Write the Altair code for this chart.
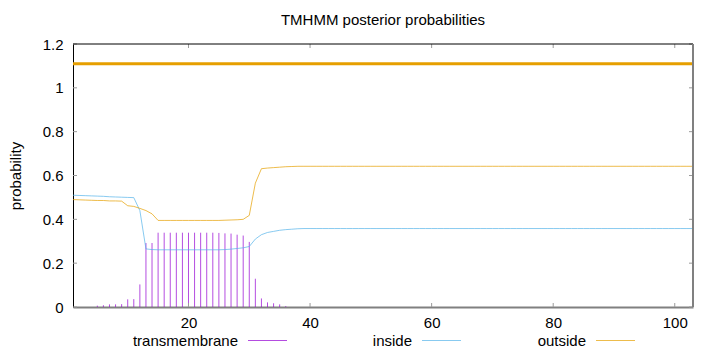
import altair as alt
import pandas as pd

# ---------------- data ----------------
positions = list(range(1, 104))

transmembrane = [
    0.000, 0.000, 0.000, 0.000, 0.006, 0.008, 0.012, 0.012, 0.013, 0.035,
    0.036, 0.103, 0.292, 0.292, 0.339, 0.339, 0.339, 0.339, 0.339, 0.339,
    0.339, 0.339, 0.339, 0.339, 0.338, 0.336, 0.335, 0.330, 0.326, 0.297,
    0.129, 0.039, 0.021, 0.017, 0.012, 0.004, 0.000, 0.000, 0.000, 0.000,
    0.000, 0.000, 0.000, 0.000, 0.000, 0.000, 0.000, 0.000, 0.000, 0.000,
    0.000, 0.000, 0.000, 0.000, 0.000, 0.000, 0.000, 0.000, 0.000, 0.000,
    0.000, 0.000, 0.000, 0.000, 0.000, 0.000, 0.000, 0.000, 0.000, 0.000,
    0.000, 0.000, 0.000, 0.000, 0.000, 0.000, 0.000, 0.000, 0.000, 0.000,
    0.000, 0.000, 0.000, 0.000, 0.000, 0.000, 0.000, 0.000, 0.000, 0.000,
    0.000, 0.000, 0.000, 0.000, 0.000, 0.000, 0.000, 0.000, 0.000, 0.000,
    0.000, 0.000, 0.000,
]

inside = [
    0.510, 0.509, 0.508, 0.507, 0.506, 0.505, 0.503, 0.502, 0.501, 0.500,
    0.499, 0.440, 0.265, 0.262, 0.261, 0.261, 0.261, 0.261, 0.261, 0.261,
    0.261, 0.261, 0.261, 0.261, 0.261, 0.262, 0.264, 0.267, 0.270, 0.276,
    0.310, 0.330, 0.340, 0.345, 0.350, 0.353, 0.355, 0.357, 0.358, 0.358,
    0.358, 0.358, 0.358, 0.358, 0.358, 0.358, 0.358, 0.358, 0.358, 0.358,
    0.358, 0.358, 0.358, 0.358, 0.358, 0.358, 0.358, 0.358, 0.358, 0.358,
    0.358, 0.358, 0.358, 0.358, 0.358, 0.358, 0.358, 0.358, 0.358, 0.358,
    0.358, 0.358, 0.358, 0.358, 0.358, 0.358, 0.358, 0.358, 0.358, 0.358,
    0.358, 0.358, 0.358, 0.358, 0.358, 0.358, 0.358, 0.358, 0.358, 0.358,
    0.358, 0.358, 0.358, 0.358, 0.358, 0.358, 0.358, 0.358, 0.358, 0.358,
    0.358, 0.358, 0.358,
]

outside = [
    0.490, 0.489, 0.488, 0.487, 0.486, 0.486, 0.484, 0.484, 0.483, 0.462,
    0.459, 0.450, 0.440, 0.425, 0.395, 0.395, 0.395, 0.395, 0.395, 0.395,
    0.395, 0.395, 0.395, 0.395, 0.395, 0.396, 0.397, 0.398, 0.400, 0.418,
    0.565, 0.631, 0.634, 0.636, 0.638, 0.640, 0.641, 0.642, 0.642, 0.642,
    0.642, 0.642, 0.642, 0.642, 0.642, 0.642, 0.642, 0.642, 0.642, 0.642,
    0.642, 0.642, 0.642, 0.642, 0.642, 0.642, 0.642, 0.642, 0.642, 0.642,
    0.642, 0.642, 0.642, 0.642, 0.642, 0.642, 0.642, 0.642, 0.642, 0.642,
    0.642, 0.642, 0.642, 0.642, 0.642, 0.642, 0.642, 0.642, 0.642, 0.642,
    0.642, 0.642, 0.642, 0.642, 0.642, 0.642, 0.642, 0.642, 0.642, 0.642,
    0.642, 0.642, 0.642, 0.642, 0.642, 0.642, 0.642, 0.642, 0.642, 0.642,
    0.642, 0.642, 0.642,
]

# predicted topology bar drawn above the curves
topo_start = [1]
topo_end = [103]
topo_level = [1.11]
topo_class = ["outside"]

series_names = ["transmembrane", "inside", "outside"]
series_colors = ["#9400D3", "#56B4E9", "#E69F00"]

x_ticks = [20, 40, 60, 80, 100]
y_ticks = [0, 0.2, 0.4, 0.6, 0.8, 1, 1.2]
x_domain = [1, 103]
y_domain = [0, 1.2]

# ---------------- chart ----------------
W, H = 620, 263
FONT = "Liberation Sans"
FS = 15
PURPLE, BLUE, ORANGE = series_colors
THIN_OP = 0.7

df = pd.DataFrame({"pos": positions, "tm": transmembrane,
                   "inside": inside, "outside": outside})
topo_df = pd.DataFrame({"start": topo_start, "end": topo_end,
                        "level": topo_level, "cls": topo_class})
one = pd.DataFrame({"a": [0]})

xscale = alt.Scale(domain=x_domain, nice=False, zero=False)
yscale = alt.Scale(domain=y_domain, nice=False, zero=False)

x_axis = alt.Axis(values=x_ticks, title=None, ticks=False, tickSize=0, grid=False,
                  domainColor="#808080", domainWidth=2, labelFont=FONT,
                  labelFontSize=FS, labelColor="#000", labelPadding=8)
y_axis = alt.Axis(values=y_ticks, title="probability", format="~g", ticks=False,
                  tickSize=0, grid=False, domainColor="#000", domainWidth=1,
                  labelFont=FONT, labelFontSize=FS, labelColor="#000",
                  labelPadding=10, titleFont=FONT, titleFontSize=FS,
                  titleFontWeight="normal", titleColor="#000", titleX=-58,
                  titleY=H / 2, titleAngle=270, titleAlign="center",
                  titleBaseline="middle")


def X(field):
    return alt.X(field, scale=xscale, axis=x_axis)


def Y(field):
    return alt.Y(field, scale=yscale, axis=y_axis)


base = alt.Chart(df)

tm_layer = base.mark_rule(color=PURPLE, strokeWidth=1, opacity=THIN_OP).encode(
    x=X("pos:Q"), y=Y("tm:Q"), y2=alt.datum(0),
)
inside_layer = base.mark_line(color=BLUE, strokeWidth=1, opacity=THIN_OP).encode(
    x=X("pos:Q"), y=Y("inside:Q"),
)
outside_layer = base.mark_line(color=ORANGE, strokeWidth=1, opacity=THIN_OP).encode(
    x=X("pos:Q"), y=Y("outside:Q"),
)
topo_layer = alt.Chart(topo_df).mark_rule(color=ORANGE, strokeWidth=3).encode(
    x=X("start:Q"), x2="end:Q", y=Y("level:Q"),
)

# frame (top dark, right grey)
top_border = alt.Chart(one).mark_rule(color="#000", strokeWidth=1).encode(
    x=alt.value(0), x2=alt.value(W), y=alt.value(0))
right_border = alt.Chart(one).mark_rule(color="#808080", strokeWidth=2).encode(
    x=alt.value(W), y=alt.value(0), y2=alt.value(H))

# inward ticks (gnuplot style), mirrored
xt = pd.DataFrame({"v": x_ticks})
yt = pd.DataFrame({"v": y_ticks})
TICK = "#9a9a9a"
xtick_b = alt.Chart(xt).mark_rule(color=TICK).encode(
    x=X("v:Q"), y=alt.value(H), y2=alt.value(H - 4))
xtick_t = alt.Chart(xt).mark_rule(color=TICK).encode(
    x=X("v:Q"), y=alt.value(0), y2=alt.value(4))
ytick_l = alt.Chart(yt).mark_rule(color=TICK).encode(
    y=Y("v:Q"), x=alt.value(0), x2=alt.value(4))
ytick_r = alt.Chart(yt).mark_rule(color=TICK).encode(
    y=Y("v:Q"), x=alt.value(W - 4), x2=alt.value(W))

# gnuplot-style legend: label then line sample
legend_layers = []
for i, (name, color) in enumerate(zip(series_names, series_colors)):
    ldf = pd.DataFrame({"name": [name]})
    legend_layers.append(
        alt.Chart(ldf).mark_text(align="right", baseline="middle", font=FONT,
                                 fontSize=FS, color="#000").encode(
            text="name:N", x=alt.value(165 + 174 * i), y=alt.value(297))
    )
    legend_layers.append(
        alt.Chart(ldf).mark_rule(color=color, strokeWidth=1, opacity=THIN_OP).encode(
            x=alt.value(175 + 174 * i), x2=alt.value(214 + 174 * i),
            y=alt.value(296.5))
    )

chart = alt.layer(
    tm_layer, inside_layer, outside_layer, topo_layer,
    xtick_b, xtick_t, ytick_l, ytick_r, top_border, right_border,
    *legend_layers,
).properties(
    width=W, height=H,
    title=alt.TitleParams("TMHMM posterior probabilities", font=FONT, fontSize=FS,
                          fontWeight="normal", color="#000", anchor="middle",
                          offset=9),
    padding={"left": 73, "top": 44, "right": 27, "bottom": 45},
    autosize=alt.AutoSizeParams(type="none"),
).configure_view(stroke=None)

chart.save("out.html", embed_options={"renderer": "svg", "actions": False})
